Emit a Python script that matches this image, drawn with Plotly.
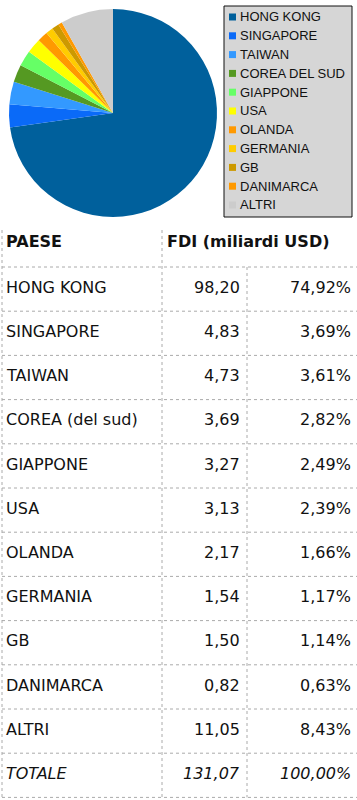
import plotly.graph_objects as go

# ---------------- data ----------------
countries = ["HONG KONG", "SINGAPORE", "TAIWAN", "COREA DEL SUD", "GIAPPONE", "USA",
             "OLANDA", "GERMANIA", "GB", "DANIMARCA", "ALTRI"]
table_names = ["HONG KONG", "SINGAPORE", "TAIWAN", "COREA (del sud)", "GIAPPONE", "USA",
               "OLANDA", "GERMANIA", "GB", "DANIMARCA", "ALTRI"]
fdi_values = [98.20, 4.83, 4.73, 3.69, 3.27, 3.13, 2.17, 1.54, 1.50, 0.82, 11.05]
fdi_labels = ["98,20", "4,83", "4,73", "3,69", "3,27", "3,13", "2,17", "1,54", "1,50", "0,82", "11,05"]
pct_labels = ["74,92%", "3,69%", "3,61%", "2,82%", "2,49%", "2,39%", "1,66%", "1,17%",
              "1,14%", "0,63%", "8,43%"]
total_label = ["TOTALE", "131,07", "100,00%"]
header_labels = ["PAESE", "FDI (miliardi USD)"]
slice_colors = ["#00609c", "#0a6af8", "#3399ff", "#559922", "#66ff66", "#ffff00",
                "#ff9900", "#ffcc00", "#cc9900", "#ff9900", "#cccccc"]

W, H = 357, 800

fig = go.Figure()

# ---------------- pie ----------------
fig.add_trace(go.Pie(
    labels=countries, values=fdi_values, sort=False, direction="clockwise", rotation=0,
    marker=dict(colors=slice_colors, line=dict(width=0)),
    textinfo="none", showlegend=False, hoverinfo="label+value+percent",
    domain=dict(x=[9 / W, 217 / W], y=[1 - 217 / H, 1 - 9 / H]),
))

# ---------------- custom legend (axis x3/y3) ----------------
n = len(countries)
fig.add_trace(go.Scatter(
    x=[232.5] * n, y=list(range(n)), mode="markers",
    marker=dict(symbol="square", size=7, color=slice_colors, line=dict(width=0)),
    xaxis="x3", yaxis="y3", showlegend=False, hoverinfo="skip",
))
annotations = []
for i, c in enumerate(countries):
    annotations.append(dict(
        x=238, y=i, xref="x3", yref="y3", text=c, showarrow=False, xanchor="left",
        yanchor="middle", font=dict(family="Liberation Sans, Arial", size=13, color="#111111"),
    ))

shapes = [dict(type="rect", xref="x3 domain", yref="y3 domain", x0=0, x1=1, y0=0, y1=1,
               fillcolor="#d6d6d6", line=dict(color="#111111", width=1), layer="below")]

# ---------------- table (axis x2/y2) ----------------
rows = len(table_names) + 1  # data rows + total
hdr = 37 / 44.2
col_left = 2
col_sep1 = 162
col_sep2 = 247
txt_left = 4
num_right = 242
pct_right = 353
tfont = dict(family="DejaVu Sans, Verdana", size=16, color="#111111")

# dummy invisible trace to anchor x2/y2
fig.add_trace(go.Scatter(x=[0], y=[0], mode="markers", marker=dict(opacity=0),
                         xaxis="x2", yaxis="y2", showlegend=False, hoverinfo="skip"))

hdr_y = -0.566
annotations.append(dict(x=txt_left, y=hdr_y, xref="x2", yref="y2",
                        text="<b>" + header_labels[0] + "</b>", showarrow=False,
                        xanchor="left", yanchor="middle", font=tfont))
annotations.append(dict(x=col_sep1 + 3, y=hdr_y, xref="x2", yref="y2",
                        text="<b>" + header_labels[1] + "</b>", showarrow=False,
                        xanchor="left", yanchor="middle", font=tfont))

all_names = table_names + [total_label[0]]
all_nums = fdi_labels + [total_label[1]]
all_pcts = pct_labels + [total_label[2]]
for i in range(rows):
    yc = i + 0.46
    italic = i == rows - 1

    def fmt(s):
        return "<i>" + s + "</i>" if italic else s
    annotations.append(dict(x=txt_left, y=yc, xref="x2", yref="y2", text=fmt(all_names[i]),
                            showarrow=False, xanchor="left", yanchor="middle", font=tfont))
    annotations.append(dict(x=num_right, y=yc, xref="x2", yref="y2", text=fmt(all_nums[i]),
                            showarrow=False, xanchor="right", yanchor="middle", font=tfont))
    annotations.append(dict(x=pct_right, y=yc, xref="x2", yref="y2", text=fmt(all_pcts[i]),
                            showarrow=False, xanchor="right", yanchor="middle", font=tfont))

line_style = dict(color="#aaaaaa", width=1, dash="dot")
for r in range(rows + 1):
    shapes.append(dict(type="line", xref="x2", yref="y2", x0=col_left, x1=W, y0=r, y1=r,
                       line=line_style))
for xv in (col_left, col_sep1):
    shapes.append(dict(type="line", xref="x2", yref="y2", x0=xv, x1=xv, y0=-hdr, y1=rows,
                       line=line_style))
shapes.append(dict(type="line", xref="x2", yref="y2", x0=col_sep2, x1=col_sep2, y0=0, y1=rows,
                   line=line_style))

axis_off = dict(visible=False, fixedrange=True)
fig.update_layout(
    width=W, height=H, margin=dict(l=0, r=0, t=0, b=0),
    paper_bgcolor="white", plot_bgcolor="rgba(0,0,0,0)",
    showlegend=False,
    xaxis2=dict(domain=[0, 1], range=[0, W], anchor="y2", **axis_off),
    yaxis2=dict(domain=[0, 570 / H], range=[(800 - 267) / 44.2, -hdr], anchor="x2", **axis_off),
    xaxis3=dict(domain=[224 / W, 352 / W], range=[224, 352], anchor="y3", **axis_off),
    yaxis3=dict(domain=[1 - 217 / H, 1 - 6 / H], range=[(217 - 17) / 18.8, (6 - 17) / 18.8],
                anchor="x3", **axis_off),
    shapes=shapes, annotations=annotations,
)

fig.write_html(
    "out.html",
    config={"displayModeBar": False},
    post_script="document.body.style.margin='0';document.body.style.overflow='hidden';",
)
